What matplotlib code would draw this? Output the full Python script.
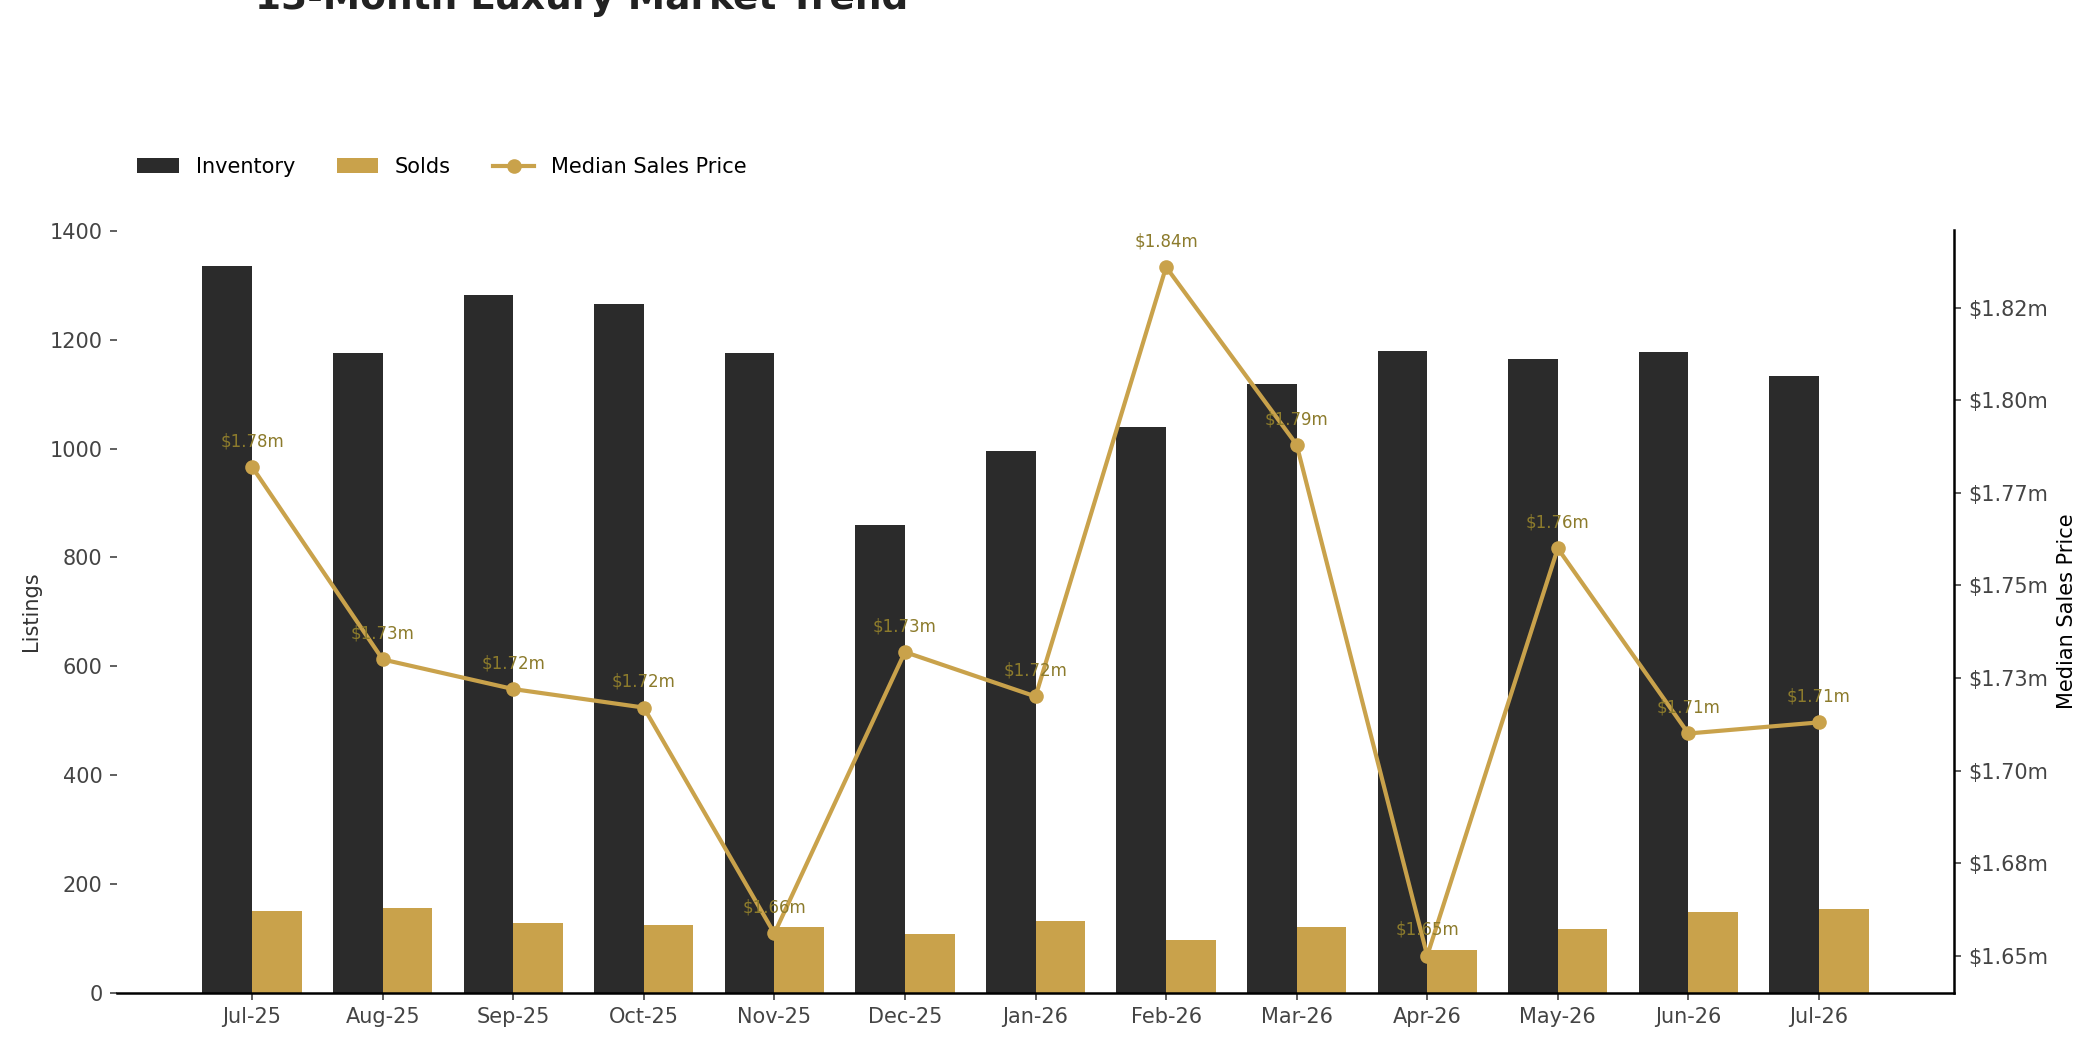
import numpy as np
import matplotlib
matplotlib.use("Agg")
import matplotlib.pyplot as plt
from matplotlib.ticker import FuncFormatter

# monthly data
months = ["Jul-25", "Aug-25", "Sep-25", "Oct-25", "Nov-25", "Dec-25", "Jan-26",
          "Feb-26", "Mar-26", "Apr-26", "May-26", "Jun-26", "Jul-26"]
inventory = [1335, 1176, 1283, 1266, 1176, 860, 996, 1040, 1119, 1180, 1165, 1178, 1134]
solds = [150, 155, 128, 125, 121, 108, 132, 97, 121, 79, 117, 149, 153]
median_price = [1.782, 1.730, 1.722, 1.717, 1.656, 1.732, 1.720,
                1.836, 1.788, 1.650, 1.760, 1.710, 1.713]  # $ millions

DARK = "#2b2b2b"
GOLD = "#c9a24b"
LABEL_GOLD = "#8c7b2c"
TICK_GREY = "#444444"

plt.rcParams["font.family"] = "DejaVu Sans"

fig = plt.figure(figsize=(14, 7), dpi=150)
ax = fig.add_axes([0.0557, 0.0546, 0.8748, 0.7264])

x = np.arange(len(months))
w = 0.38
ax.bar(x - w / 2, inventory, width=w, color=DARK, label="Inventory")
ax.bar(x + w / 2, solds, width=w, color=GOLD, label="Solds")

ax.set_xlim(-1.035, len(months) - 1 + 1.035)
ax.set_ylim(0, max(inventory) * 1.05)
ax.set_xticks(x)
ax.set_xticklabels(months)
ax.set_ylabel("Listings", fontsize=10, color="#333333")
ax.tick_params(axis="both", labelsize=10, colors=TICK_GREY)

for s in ["top", "right", "left"]:
    ax.spines[s].set_visible(False)
ax.spines["bottom"].set_color("black")
ax.spines["bottom"].set_linewidth(1.2)

ax2 = ax.twinx()
ax2.plot(x, median_price, color=GOLD, lw=2, marker="o", ms=6, label="Median Sales Price")
ax2.set_ylim(min(median_price) - 0.01, max(median_price) + 0.01)
ax2.yaxis.set_major_formatter(FuncFormatter(lambda v, p: f"${v:.2f}m"))
ax2.set_ylabel("Median Sales Price", fontsize=10, color="black")
ax2.tick_params(axis="y", labelsize=10, colors=TICK_GREY)
for s in ["top", "left", "bottom"]:
    ax2.spines[s].set_visible(False)
ax2.spines["right"].set_color("black")
ax2.spines["right"].set_linewidth(1.2)

for xi, p in zip(x, median_price):
    ax2.annotate(f"${p:.2f}m", (xi, p), xytext=(0, 8), textcoords="offset points",
                 ha="center", va="bottom", fontsize=8, color=LABEL_GOLD)

h1, l1 = ax.get_legend_handles_labels()
h2, l2 = ax2.get_legend_handles_labels()
fig.legend(h1 + h2, l1 + l2, loc="center left", bbox_to_anchor=(0.0565, 0.841),
           ncol=3, frameon=False, fontsize=10)

fig.text(0.1215, 0.9915, "13-Month Luxury Market Trend", fontsize=18,
         fontweight="bold", color="#222222", ha="left", va="baseline")

fig.savefig("out.png", dpi=150)
